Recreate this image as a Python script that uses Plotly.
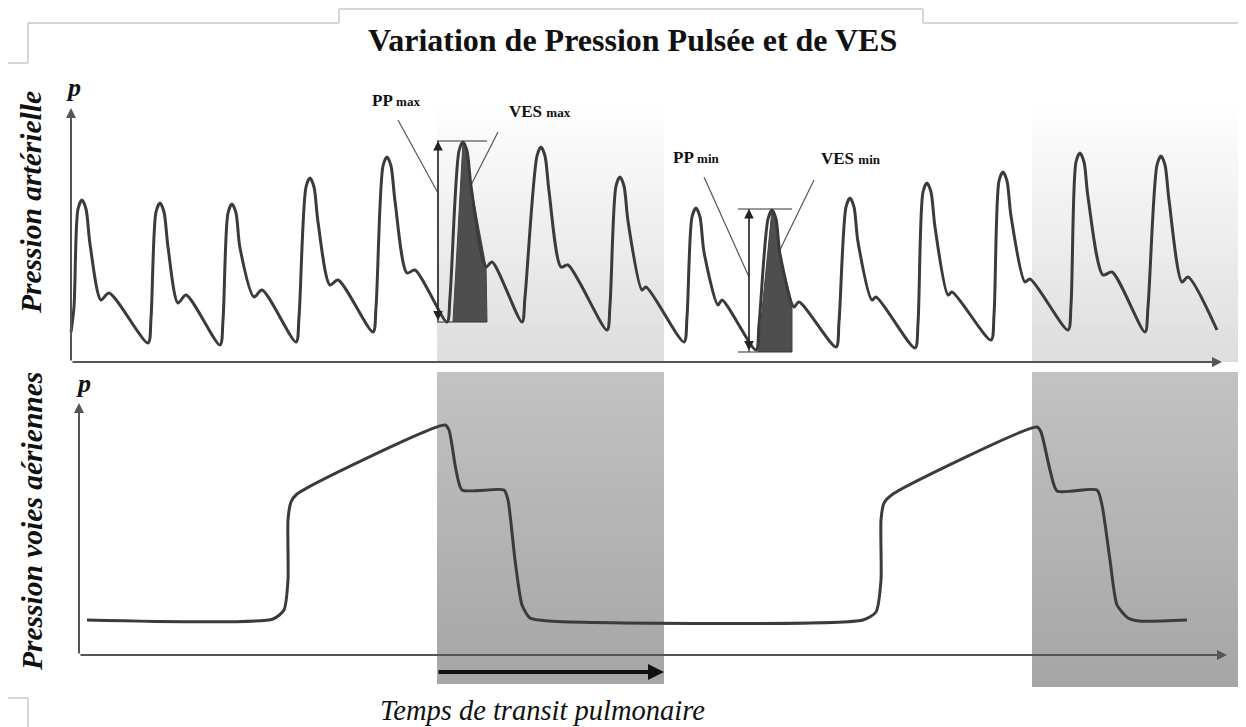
import plotly.graph_objects as go

# page has an 8px body margin: figure drawn 8px in from the window's top-left
OFF = 8
W, H = 1246 - OFF, 727 - OFF

# ---------------- data (time in s, pressure in arbitrary units) ----------------
# Arterial pressure, per beat: trough, upstroke low, upstroke high, peak,
# descent high, descent mid, dicrotic notch, bump ... then end point
art_t = [0.01, 0.04, 0.08, 0.12, 0.16, 0.20, 0.31, 0.39,
         0.78, 0.81, 0.86, 0.90, 0.94, 0.98, 1.08, 1.16,
         1.50, 1.53, 1.58, 1.62, 1.66, 1.70, 1.84, 1.92,
         2.26, 2.29, 2.36, 2.40, 2.44, 2.48, 2.60, 2.68,
         3.03, 3.06, 3.13, 3.17, 3.21, 3.25, 3.37, 3.45,
         3.77, 3.80, 3.89, 3.93, 3.97, 4.01, 4.16, 4.22,
         4.52, 4.55, 4.67, 4.71, 4.75, 4.79, 4.91, 4.98,
         5.37, 5.40, 5.46, 5.50, 5.54, 5.58, 5.72, 5.76,
         6.14, 6.17, 6.22, 6.26, 6.30, 6.34, 6.48, 6.52,
         6.86, 6.89, 6.98, 7.02, 7.06, 7.10, 7.24, 7.29,
         7.66, 7.69, 7.76, 7.80, 7.84, 7.88, 8.02, 8.06,
         8.45, 8.48, 8.53, 8.57, 8.61, 8.65, 8.78, 8.82,
         9.21, 9.24, 9.29, 9.33, 9.37, 9.41, 9.55, 9.60,
         9.98, 10.01, 10.06, 10.10, 10.14, 10.18, 10.33, 10.42,
         10.75, 10.78, 10.87, 10.91, 10.95, 10.99, 11.12, 11.18,
         11.47]
art_p = [13, 25.5, 74.5, 79, 74.5, 57, 29, 32.5,
         7.5, 20, 73, 77.5, 73, 55.5, 27.5, 31.5,
         6.5, 19, 72.5, 77, 72.5, 55, 30.5, 34,
         8, 20.5, 85.5, 90, 85.5, 68, 36.5, 39,
         13, 25.5, 96, 100.5, 96, 78.5, 42.5, 44,
         18, 30.5, 103.5, 108, 103.5, 86, 45.5, 48,
         18, 30.5, 101, 105.5, 101, 83.5, 45.5, 46.5,
         14, 26.5, 86, 90.5, 86, 68.5, 34, 35.5,
         8, 20.5, 70.5, 75, 70.5, 53, 26.5, 29,
         4, 16.5, 69.5, 74, 69.5, 52, 25.5, 28,
         5.5, 18, 75.5, 80, 75.5, 58, 29, 30.5,
         5, 17.5, 83, 87.5, 83, 65.5, 31.5, 33,
         9, 21.5, 88.5, 93, 88.5, 71, 38, 39.5,
         14, 26.5, 98, 102.5, 98, 80.5, 41.5, 43,
         13, 25.5, 96.5, 101, 96.5, 79, 38, 40.5,
         14]

# Airway pressure
air_t = [0.17, 2.03, 2.14, 2.18, 2.18, 2.21, 2.27, 3.75, 3.79, 3.86, 3.92, 4.34, 4.38,
         4.45, 4.52, 4.60, 4.79, 7.93, 8.06, 8.11, 8.11, 8.14, 8.23, 9.67, 9.71, 9.80,
         9.87, 10.27, 10.32, 10.40, 10.47, 10.58, 10.69, 11.17]
air_p = [17.5, 18, 22.5, 37.5, 67.5, 76.5, 80.5, 115, 112.5, 92.5, 82.5, 82.5, 77.5,
         47.5, 25, 18.5, 17, 17.5, 21.5, 37.5, 67.5, 76, 80.5, 114, 111.5, 92.5,
         82, 82.5, 75, 47.5, 25, 18.5, 17, 17.5]

# Stroke volume areas (VES max / VES min)
ves_max_t = [3.83, 3.93, 3.97, 4.01, 4.16, 4.17]
ves_max_p = [18, 108.5, 103.5, 86, 45.5, 18]
ves_min_t = [6.88, 7.02, 7.06, 7.10, 7.22, 7.22]
ves_min_p = [3, 74.5, 69.5, 52, 27, 3]

# Pulse pressure markers: [t_start, t_end, t_arrow, p_top, p_bottom]
pp_max = [3.67, 4.17, 3.68, 108.5, 18]
pp_min = [6.68, 7.22, 6.79, 74.5, 3]

# Leader lines (t0, p0, t1, p1)
leaders = {
    "PP max": (3.28, 119, 3.68, 82.5),
    "VES max": (4.28, 113, 4.00, 85.5),
    "PP min": (6.34, 90.5, 6.79, 40.5),
    "VES min": (7.44, 89, 7.06, 50),
}

# Insufflation shaded windows (t start, t end)
windows = [(3.67, 5.94), (9.62, 11.80)]
transit = (3.67, 5.94)

FONT = "Liberation Serif"
LINE = "#3b3b3b"


def px(x, y):
    """reference-image pixel -> paper coords"""
    return (x - OFF) / W, 1 - (y - OFF) / H


def py(y):
    return 1 - (y - OFF) / H


def lerp_col(c0, c1, f):
    return "rgb(%d,%d,%d)" % tuple(round(a + (b - a) * f) for a, b in zip(c0, c1))


fig = go.Figure()

# VES fills
for tt, pp in ((ves_max_t, ves_max_p), (ves_min_t, ves_min_p)):
    fig.add_trace(go.Scatter(x=tt, y=pp, fill="toself", mode="lines",
                             line=dict(color="#444444", width=1), fillcolor="#4e4e4e",
                             xaxis="x", yaxis="y", hoverinfo="skip"))

# PP bars
for m in (pp_max, pp_min):
    t0, t1, ta, ptop, pbot = m
    fig.add_trace(go.Scatter(x=[t0, t1, None, t0, t1, None, ta, ta],
                             y=[ptop, ptop, None, pbot, pbot, None, ptop, pbot],
                             mode="lines", line=dict(color="#333333", width=1.2),
                             xaxis="x", yaxis="y", hoverinfo="skip"))

# leader lines
for k, (a, b, c, d) in leaders.items():
    fig.add_trace(go.Scatter(x=[a, c], y=[b, d], mode="lines", line=dict(color="#555555", width=1.2),
                             xaxis="x", yaxis="y", hoverinfo="skip"))

# arterial curve
fig.add_trace(go.Scatter(x=art_t, y=art_p, mode="lines",
                         line=dict(color=LINE, width=3, shape="spline", smoothing=0.8),
                         xaxis="x", yaxis="y", hoverinfo="skip"))
# airway curve
fig.add_trace(go.Scatter(x=air_t, y=air_p, mode="lines",
                         line=dict(color=LINE, width=3, shape="spline", smoothing=0.6),
                         xaxis="x", yaxis="y2", hoverinfo="skip"))

shapes = []
# gradient shading (bands overlap slightly to avoid seams)
NB = 30
top_y0, top_y1 = 95, 362
bot_y0 = 372
for wi, (ta, tb) in enumerate(windows):
    bot_y1 = 684 if wi == 0 else 687
    for i in range(NB):
        f = i / (NB - 1)
        ya = top_y0 + (top_y1 - top_y0) * i / NB
        yb = top_y0 + (top_y1 - top_y0) * (i + 1) / NB
        shapes.append(dict(type="rect", xref="x", yref="paper", x0=ta, x1=tb,
                           y0=py(yb), y1=py(max(ya - 1.5, top_y0)), line=dict(width=0),
                           fillcolor=lerp_col((255, 255, 255), (222, 222, 222), f), layer="below"))
        ya = bot_y0 + (bot_y1 - bot_y0) * i / NB
        yb = bot_y0 + (bot_y1 - bot_y0) * (i + 1) / NB
        shapes.append(dict(type="rect", xref="x", yref="paper", x0=ta, x1=tb,
                           y0=py(yb), y1=py(max(ya - 1.5, bot_y0)), line=dict(width=0),
                           fillcolor=lerp_col((194, 194, 194), (166, 166, 166), f), layer="below"))

# decorative frame lines (slide template)
frame = [(6, 63, 28, 63), (28, 63, 28, 23), (28, 23, 339, 23), (339, 23, 339, 9), (339, 9, 923, 9),
         (923, 9, 923, 23), (923, 23, 1246, 23), (6, 698, 28, 698), (28, 698, 28, 727)]
for x0, y0, x1, y1 in frame:
    a0, b0 = px(x0, y0)
    a1, b1 = px(x1, y1)
    shapes.append(dict(type="line", xref="paper", yref="paper", x0=a0, y0=b0,
                       x1=a1, y1=b1, line=dict(color="#c8c8c8", width=1.5)))

ann = []


def arrow(x, y, ax, ay, yref, color="#333333", width=2, head=2, size=1.0, side="end"):
    ann.append(dict(x=x, y=y, ax=ax, ay=ay, xref="x", yref=yref, axref="x", ayref=yref,
                    text="", showarrow=True, arrowhead=head, arrowsize=size, arrowwidth=width,
                    arrowcolor=color, arrowside=side))


# axes
arrow(0.01, 125, 0.01, -2, "y", color="#555555")
arrow(11.52, -2, 0.01, -2, "y", color="#555555")
arrow(0.09, 126, 0.09, 0, "y2", color="#555555")
arrow(11.57, 0, 0.09, 0, "y2", color="#555555")
# transit arrow
arrow(transit[1], -8.5, transit[0], -8.5, "y2", color="#111111", width=4, size=0.8)
# PP double arrows
for m in (pp_max, pp_min):
    arrow(m[2], m[3], m[2], m[4], "y", color="#222222", width=1.2, head=2, size=1.6, side="end+start")


def label(text, x, y, size, bold=True, italic=False, angle=0, xanchor="center"):
    t = text
    if bold:
        t = "<b>" + t + "</b>"
    if italic:
        t = "<i>" + t + "</i>"
    xp, yp = px(x, y)
    ann.append(dict(x=xp, y=yp, xref="paper", yref="paper", text=t, showarrow=False,
                    font=dict(family=FONT, size=size, color="#111111"), textangle=angle,
                    xanchor=xanchor, yanchor="middle"))


label("Variation de Pression Pulsée et de VES", 632, 40, 32)
label("p", 73, 88, 26, italic=True)
label("p", 83, 383, 26, italic=True)
label("t", 1236, 356, 26, italic=True, xanchor="left")
label("Pression artérielle", 31, 203, 29.5, italic=True, angle=-90)
label("Pression voies aériennes", 32, 522, 29.5, italic=True, angle=-90)
label("Temps de transit pulmonaire", 542, 710, 28.5, bold=False, italic=True)
small = "<span style='font-size:13px'>%s</span>"
label("PP " + small % "max", 396, 100, 17)
label("VES " + small % "max", 540, 112, 17)
label("PP " + small % "min", 696, 157, 17)
label("VES " + small % "min", 851, 158, 17)

fig.update_layout(
    width=W, height=H, autosize=False,
    margin=dict(l=0, r=0, t=0, b=0),
    paper_bgcolor="white", plot_bgcolor="rgba(0,0,0,0)",
    showlegend=False, hovermode=False,
    xaxis=dict(domain=[0, 1], range=[-0.62, 11.76], visible=False, fixedrange=True),
    yaxis=dict(domain=[py(368), py(88)], range=[-5, 135], visible=False, fixedrange=True),
    yaxis2=dict(domain=[py(675), py(385)], range=[-10, 135], visible=False,
                fixedrange=True, anchor="x"),
    shapes=shapes, annotations=ann,
)

fig.write_html("out.html", config={"displayModeBar": False})
